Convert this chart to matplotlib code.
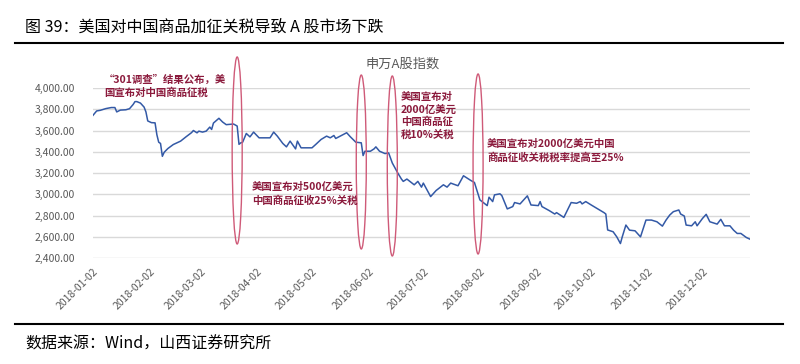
import numpy as np
import pandas as pd
import matplotlib.pyplot as plt
import matplotlib.dates as mdates
from matplotlib.patches import Ellipse
from matplotlib.lines import Line2D
from matplotlib.ticker import FuncFormatter

plt.rcParams['font.family'] = ['Noto Sans CJK SC', 'DejaVu Sans']

# SW A-share index
dates = [
    "01-02", "01-04", "01-06", "01-09", "01-12", "01-14", "01-15", "01-17", "01-20", "01-22",
    "01-24", "01-25", "01-26", "01-28", "01-30", "01-31", "02-01", "02-03", "02-05", "02-06",
    "02-07", "02-08", "02-09", "02-10", "02-12", "02-15", "02-19", "02-22", "02-25", "02-26",
    "02-28", "03-01", "03-03", "03-05", "03-07", "03-08", "03-09", "03-11", "03-12", "03-14",
    "03-16", "03-18", "03-20", "03-22", "03-23", "03-24", "03-25", "03-26", "03-27", "03-29",
    "03-31", "04-03", "04-09", "04-11", "04-13", "04-16", "04-18", "04-20", "04-23", "04-24",
    "04-26", "05-02", "05-04", "05-07", "05-10", "05-12", "05-14", "05-15", "05-21", "05-23",
    "05-26", "05-29", "05-30", "05-31", "06-03", "06-05", "06-06", "06-08", "06-11", "06-13",
    "06-15", "06-18", "06-20", "06-21", "06-23", "06-27", "06-29", "07-01", "07-02", "07-06",
    "07-09", "07-13", "07-15", "07-17", "07-21", "07-24", "07-28", "07-30", "08-02", "08-06",
    "08-07", "08-09", "08-10", "08-13", "08-14", "08-17", "08-20", "08-21", "08-24", "08-28",
    "08-30", "09-03", "09-04", "09-05", "09-09", "09-12", "09-13", "09-17", "09-19", "09-21",
    "09-24", "09-26", "09-27", "09-29", "10-02", "10-09", "10-10", "10-11", "10-14", "10-16",
    "10-18", "10-19", "10-21", "10-23", "10-26", "10-29", "11-01", "11-04", "11-07", "11-10",
    "11-12", "11-14", "11-16", "11-19", "11-20", "11-22", "11-23", "11-26", "11-28", "11-29",
    "12-02", "12-04", "12-06", "12-10", "12-12", "12-14", "12-17", "12-19", "12-21", "12-23",
    "12-26", "12-28",
]
index_vals = [
    3743, 3784, 3790, 3806, 3816, 3816, 3775, 3792, 3795, 3805,
    3845, 3872, 3872, 3858, 3820, 3775, 3690, 3674, 3672, 3560,
    3490, 3478, 3357, 3395, 3430, 3468, 3500, 3541, 3580, 3600,
    3578, 3594, 3585, 3594, 3632, 3610, 3670, 3700, 3715, 3680,
    3655, 3658, 3661, 3642, 3470, 3484, 3490, 3531, 3572, 3540,
    3585, 3531, 3531, 3585, 3547, 3478, 3446, 3500, 3427, 3500,
    3437, 3437, 3468, 3516, 3547, 3531, 3553, 3525, 3579, 3541,
    3490, 3484, 3364, 3405, 3405, 3427, 3446, 3405, 3383, 3389,
    3294, 3200, 3143, 3121, 3143, 3089, 3121, 3067, 3105, 2978,
    3035, 3089, 3067, 3105, 3080, 3174, 3130, 3111, 2947, 2893,
    2972, 2931, 2994, 3004, 2988, 2862, 2884, 2922, 2909, 2985,
    2899, 2893, 2931, 2884, 2846, 2814, 2827, 2782, 2852, 2922,
    2915, 2931, 2909, 2931, 2899, 2827, 2814, 2664, 2647, 2599,
    2536, 2599, 2710, 2662, 2656, 2599, 2757, 2757, 2741, 2700,
    2757, 2804, 2836, 2852, 2814, 2795, 2710, 2703, 2741, 2703,
    2773, 2811, 2741, 2719, 2764, 2703, 2703, 2662, 2631, 2631,
    2593, 2577,
]

tick_dates = ["2018-%02d-02" % m for m in range(1, 13)]

# events circled on the chart: date, top, bottom of ellipse
event_dates = ["2018-03-22", "2018-05-29", "2018-06-15", "2018-08-01"]
event_top = [4292, 4122, 4113, 4132]
event_bottom = [2532, 2485, 2419, 2438]

notes = [
    "“301调查”结果公布，美\n国宣布对中国商品征税",
    "美国宣布对500亿美元\n中国商品征收25%关税",
    "美国宣布对\n2000亿美元\n中国商品征\n税10%关税",
    "美国宣布对2000亿美元中国\n商品征收关税税率提高至25%",
]
note_pos = [(104, 75), (252, 182), (401, 92), (487, 139)]  # pixel left/top
note_spacing = [1.2, 1.35, 1.3, 1.4]

x = pd.to_datetime(["2018-" + d for d in dates])

W, H = 800, 364
fig = plt.figure(figsize=(W / 100, H / 100), dpi=100)
ax = fig.add_axes([93 / W, 1 - 258 / H, (750 - 93) / W, (258 - 88) / H])

ax.plot(x, index_vals, color='#3359a6', lw=1.1, zorder=3)

ax.set_ylim(2400, 4000)
ax.set_yticks(np.arange(2400, 4001, 200))
ax.yaxis.set_major_formatter(FuncFormatter(lambda v, p: f"{v:,.2f}"))
ax.set_xlim(pd.Timestamp("2018-01-02"), pd.Timestamp("2018-12-28"))
ax.set_xticks(pd.to_datetime(tick_dates))
ax.xaxis.set_major_formatter(mdates.DateFormatter("%Y-%m-%d"))
for lab in ax.get_xticklabels():
    lab.set_rotation(45)
    lab.set_ha('right')
    lab.set_rotation_mode('anchor')
ax.tick_params(axis='both', length=0, labelsize=7.5, colors='#595959')
ax.tick_params(axis='y', pad=13)
ax.tick_params(axis='x', pad=6)
ax.grid(axis='y', color='#d9d9d9', lw=1)
ax.set_axisbelow(True)
for s in ax.spines.values():
    s.set_visible(False)

for d, top, bot in zip(event_dates, event_top, event_bottom):
    c = mdates.date2num(pd.Timestamp(d))
    e = Ellipse((c, (top + bot) / 2), width=5.5, height=top - bot,
                fill=False, edgecolor='#cf5a78', lw=1.0, clip_on=False, zorder=4)
    ax.add_patch(e)

for txt, (px, py), ls in zip(notes, note_pos, note_spacing):
    fig.text(px / W, 1 - py / H, txt, ha='left', va='top', multialignment='left',
             fontsize=7.5, color='#8b1a3c', fontweight='bold', linespacing=ls)

fig.text(403 / W, 1 - 64 / H, "申万A股指数", ha='center', va='center',
         fontsize=9.5, color='#595959')

fig.text(25 / W, 1 - 27 / H, "图 39：美国对中国商品加征关税导致 A 股市场下跌",
         ha='left', va='center', fontsize=11.5, color='black')
fig.text(25 / W, 1 - 344 / H, "数据来源：Wind，山西证券研究所",
         ha='left', va='center', fontsize=11.5, color='black')

for yy in (43, 324):
    fig.add_artist(Line2D([15 / W, 783 / W], [1 - yy / H, 1 - yy / H],
                          color='black', lw=1.5))

fig.savefig("out.png", dpi=100, facecolor='white')
